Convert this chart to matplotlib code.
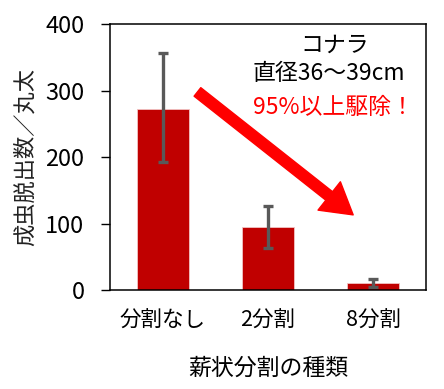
import matplotlib
matplotlib.use('Agg')
import matplotlib.pyplot as plt

plt.rcParams['font.family'] = ['Noto Sans CJK JP', 'DejaVu Sans']

# データ
categories = ['分割なし', '2分割', '8分割']
means = [273, 95, 10]
err_low = [192, 63, 4]
err_high = [356, 127, 16]
yticks = [0, 100, 200, 300, 400]

yerr = [[m - lo for m, lo in zip(means, err_low)],
        [hi - m for m, hi in zip(means, err_high)]]

fig = plt.figure(figsize=(4.44, 3.89), dpi=100)
ax = fig.add_axes([0.248, 0.2545, 0.711, 0.6835])

x = range(len(categories))
ax.bar(x, means, width=0.49, color='#C00000', edgecolor='#F2C4C4', linewidth=0.6,
       yerr=yerr, ecolor='#595959', error_kw=dict(elinewidth=2.4, capsize=3.6, capthick=2.4))

ax.set_xlim(-0.5, 2.5)
ax.set_ylim(0, 400)
ax.set_yticks(yticks)
ax.set_xticks(list(x))
ax.set_xticklabels(categories, fontsize=15.5)
ax.tick_params(axis='x', length=0, pad=14)
ax.tick_params(axis='y', length=6.5, width=1, pad=12, labelsize=17)
for s in ax.spines.values():
    s.set_linewidth(1.1)

ax.set_ylabel('成虫脱出数／丸太', fontsize=16, color='#222222', labelpad=6)
ax.set_xlabel('薪状分割の種類', fontsize=16.5, labelpad=18)

# 注釈
ax.text(0.712, 0.921, 'コナラ', transform=ax.transAxes, ha='center', va='center', fontsize=16.5)
ax.text(0.693, 0.816, '直径36～39cm', transform=ax.transAxes, ha='center', va='center', fontsize=16.5)
ax.text(0.706, 0.688, '95%以上駆除！', transform=ax.transAxes, ha='center', va='center',
        fontsize=16.5, color='#FF0000')

arrow_start = (0.33, 298)
arrow_end = (1.81, 113)
ax.annotate('', xy=arrow_end, xytext=arrow_start,
            arrowprops=dict(arrowstyle='simple,head_length=2.2,head_width=2.6,tail_width=0.78',
                            mutation_scale=10, color='#FF0000', shrinkA=0, shrinkB=0))

fig.savefig('out.png', dpi=100)
